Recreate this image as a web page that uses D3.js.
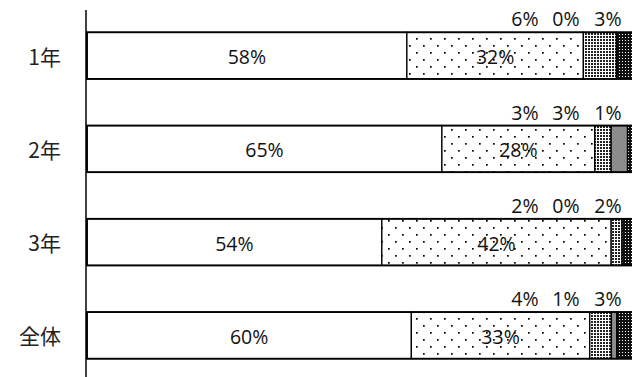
<!doctype html>
<html>
<head>
<meta charset="UTF-8">
<title>学年別 割合</title>
<script src="https://cdn.jsdelivr.net/npm/d3@7/dist/d3.min.js"></script>
<style>
    body { margin: 0; background: #fff; }
    svg { display: block; }
</style>
</head>
<body>
<svg id="chart" width="632" height="377"></svg>
<script>
// chart values
var categories = ["1年", "2年", "3年", "全体"];
var seriesKeys = ["s1", "s2", "s3", "s4", "s5"];
var s1 = [58, 65, 54, 60];
var s2 = [32, 28, 42, 33];
var s3 = [6, 3, 2, 4];
var s4 = [0, 3, 0, 1];
var s5 = [3, 1, 2, 3];

var rows = categories.map(function(c, i) {
    return {cat: c, s1: s1[i], s2: s2[i], s3: s3[i], s4: s4[i], s5: s5[i]};
});

var svg = d3.select("#chart");
var labelFont = "'Open Sans', 'DejaVu Sans', sans-serif";

// fill patterns
var defs = svg.append("defs");

var p2 = defs.append("pattern").attr("id", "pat2")
    .attr("patternUnits", "userSpaceOnUse").attr("width", 14).attr("height", 14);
p2.append("rect").attr("width", 14).attr("height", 14).attr("fill", "#fff");
p2.append("rect").attr("x", 3).attr("y", 3).attr("width", 1.7).attr("height", 1.7).attr("fill", "#000");
p2.append("rect").attr("x", 10).attr("y", 10).attr("width", 1.7).attr("height", 1.7).attr("fill", "#000");

var p3 = defs.append("pattern").attr("id", "pat3")
    .attr("patternUnits", "userSpaceOnUse").attr("width", 3).attr("height", 3);
p3.append("rect").attr("width", 3).attr("height", 3).attr("fill", "#fff");
p3.append("rect").attr("width", 2).attr("height", 2).attr("fill", "#222");

var p5 = defs.append("pattern").attr("id", "pat5")
    .attr("patternUnits", "userSpaceOnUse").attr("width", 3).attr("height", 3);
p5.append("rect").attr("width", 3).attr("height", 3).attr("fill", "#111");
p5.append("rect").attr("x", 1).attr("y", 1).attr("width", 1).attr("height", 1).attr("fill", "#fff");

var fills = {s1: "#fff", s2: "url(#pat2)", s3: "url(#pat3)", s4: "#8c8c8c", s5: "url(#pat5)"};

var x = d3.scaleLinear().domain([0, 1]).range([87, 633]);
var y = d3.scaleBand().domain(categories).range([9, 382])
    .paddingInner(0.5).paddingOuter(0.25);

var stack = d3.stack().keys(seriesKeys).offset(d3.stackOffsetExpand);
var layers = stack(rows);

var layer = svg.selectAll("g.layer")
    .data(layers)
    .enter().append("g")
    .attr("class", "layer")
    .attr("fill", function(d) { return fills[d.key]; });

layer.selectAll("rect")
    .data(function(d) { return d; })
    .enter().append("rect")
    .attr("x", function(d) { return x(d[0]); })
    .attr("y", function(d) { return y(d.data.cat); })
    .attr("width", function(d) { return x(d[1]) - x(d[0]); })
    .attr("height", y.bandwidth())
    .attr("stroke", "#000")
    .attr("stroke-width", 1.3);

// bar outlines on top
svg.selectAll("rect.outline")
    .data(rows)
    .enter().append("rect")
    .attr("class", "outline")
    .attr("x", x(0))
    .attr("y", function(d) { return y(d.cat); })
    .attr("width", x(1) - x(0))
    .attr("height", y.bandwidth())
    .attr("fill", "none")
    .attr("stroke", "#000")
    .attr("stroke-width", 1.8);

// labels inside the two big segments
layers.slice(0, 2).forEach(function(l) {
    svg.selectAll(null)
        .data(l)
        .enter().append("text")
        .attr("x", function(d) { return (x(d[0]) + x(d[1])) / 2; })
        .attr("y", function(d) { return y(d.data.cat) + y.bandwidth() / 2 + 1; })
        .attr("text-anchor", "middle")
        .attr("dominant-baseline", "central")
        .attr("font-family", labelFont)
        .attr("font-size", 19.5)
        .attr("fill", "#111")
        .text(function(d) { return d.data[l.key] + "%"; });
});

// labels for the three small segments, above each bar
var smallOffsets = [108, 67, 25];
seriesKeys.slice(2).forEach(function(k, j) {
    svg.selectAll(null)
        .data(rows)
        .enter().append("text")
        .attr("x", x(1) - smallOffsets[j])
        .attr("y", function(d) { return y(d.cat) - 6; })
        .attr("text-anchor", "middle")
        .attr("font-family", labelFont)
        .attr("font-size", 19.5)
        .attr("fill", "#111")
        .text(function(d) { return d[k] + "%"; });
});

// category axis
svg.append("line")
    .attr("x1", 86).attr("x2", 86)
    .attr("y1", 10).attr("y2", 377)
    .attr("stroke", "#000")
    .attr("stroke-width", 1.5);

svg.selectAll("text.cat")
    .data(categories)
    .enter().append("text")
    .attr("class", "cat")
    .attr("x", 61)
    .attr("y", function(d) { return y(d) + y.bandwidth() / 2; })
    .attr("text-anchor", "end")
    .attr("dominant-baseline", "central")
    .attr("font-family", "'Noto Sans CJK JP', sans-serif")
    .attr("font-size", 21)
    .attr("fill", "#222")
    .text(function(d) { return d; });
</script>
</body>
</html>
